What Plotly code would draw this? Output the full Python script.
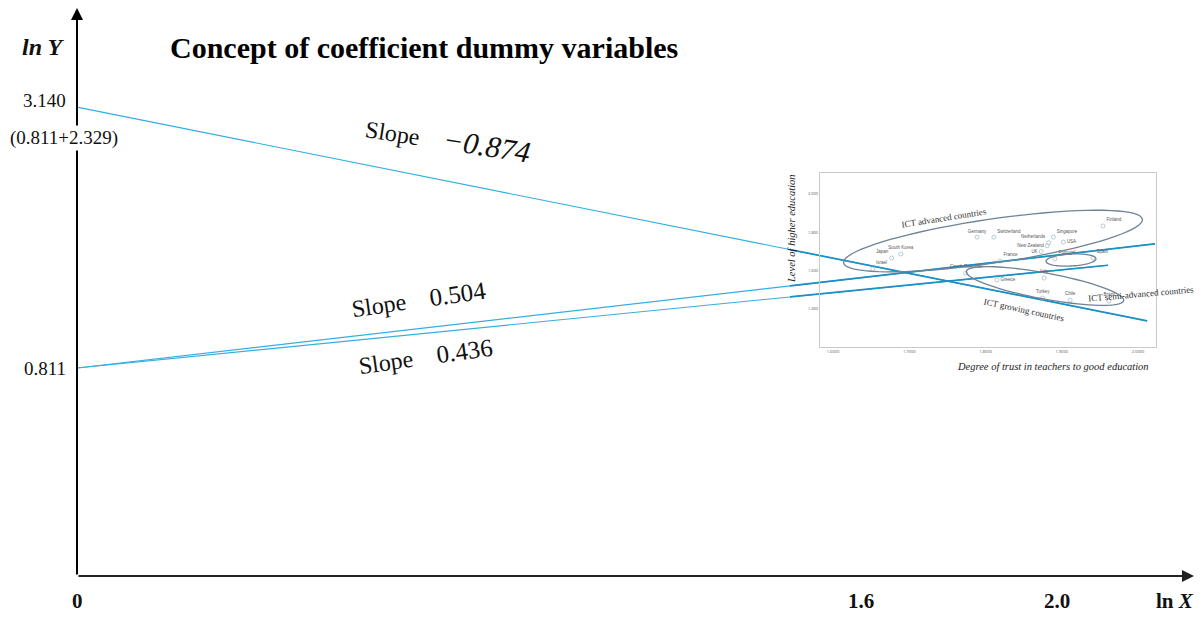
import numpy as np
import plotly.graph_objects as go

W, H = 1204, 618

# ---------------- data ----------------
intercepts = [3.140, 0.811, 0.811]
slopes = [-0.874, 0.504, 0.436]
line_x_end = [2.184, 2.200, 2.104]
slope_words = ["Slope", "Slope", "Slope"]
slope_values = ["<i>\u22120.874</i>", "0.504", "0.436"]

x_ticks = [0, 1.6, 2.0]
x_tick_text = ["0", "1.6", "2.0"]
y_ticks = [3.140, 0.811]
y_tick_text = ["3.140", "0.811"]

countries = ["Finland", "Germany", "Switzerland", "Singapore", "Netherlands", "USA",
             "New Zealand", "UK", "South Korea", "Japan", "Israel", "France",
             "Portugal", "Spain", "Czech Republic", "Greece", "Italy", "Turkey", "Chile", "Brazil"]
trust = [1.954, 1.789, 1.811, 1.889, 1.883, 1.902, 1.881, 1.873, 1.689, 1.677, 1.652, 1.819,
         1.891, 1.941, 1.774, 1.815, 1.877, 1.875, 1.911, 1.962]
higher_edu = [1.833, 1.775, 1.775, 1.775, 1.746, 1.749, 1.730, 1.700, 1.687, 1.666, 1.608, 1.650,
              1.661, 1.666, 1.587, 1.551, 1.561, 1.457, 1.446, 1.441]
label_pos = ["top right", "top center", "top right", "top right", "top left", "middle right",
             "middle left", "middle left", "top center", "top left", "top right", "top right",
             "top right", "top right", "top center", "middle right", "top center", "top center",
             "top center", "top center"]
inset_x_ticks = [1.6, 1.7, 1.8, 1.9, 2.0]
inset_x_text = ["1.6000", "1.7000", "1.8000", "1.9000", "2.0000"]
inset_y_ticks = [1.4, 1.6, 1.8, 2.0]
inset_y_text = ["1.400", "1.600", "1.800", "2.000"]

# ---------------- layout helpers ----------------
KX, KY = 490.0, 112.0           # px per unit
X0_PX, Y811_PX = 77.0, 368.0
x_range = [-X0_PX / KX, (W - X0_PX) / KX]
y_range = [0.811 - (H - Y811_PX) / KY, 0.811 + Y811_PX / KY]
x_axis_y = 0.811 - (576 - Y811_PX) / KY


def paper(px, py):
    return px / W, 1 - py / H


LINE_COL = "#33afe2"
INSET_LINE_COL = "#1b90c6"
SERIF = "Liberation Serif, Times New Roman, serif"

fig = go.Figure()

# main regression lines
for a, b, xe in zip(intercepts, slopes, line_x_end):
    xs = np.array([0.0, xe])
    fig.add_trace(go.Scatter(x=xs, y=a + b * xs, mode="lines",
                             line=dict(color=LINE_COL, width=1.1),
                             hoverinfo="skip", showlegend=False))

# inset points
fig.add_trace(go.Scatter(x=trust, y=higher_edu, mode="markers+text", text=countries,
                         textposition=label_pos,
                         textfont=dict(size=4.5, color="#555", family="Arial"),
                         marker=dict(size=4, color="rgba(0,0,0,0)",
                                     line=dict(color="#a7bccc", width=0.8)),
                         xaxis="x2", yaxis="y2", hoverinfo="skip", showlegend=False))

# thicker portions of the lines inside the inset region (drawn in main coordinates)
inset_start_x = (790 - X0_PX) / KX
for a, b, xe in zip(intercepts, slopes, line_x_end):
    xs = np.array([inset_start_x, xe])
    fig.add_trace(go.Scatter(x=xs, y=a + b * xs, mode="lines",
                             line=dict(color=INSET_LINE_COL, width=1.7),
                             hoverinfo="skip", showlegend=False))

fig.update_layout(
    width=W, height=H,
    margin=dict(l=0, r=0, t=0, b=0),
    paper_bgcolor="white", plot_bgcolor="rgba(0,0,0,0)",
    xaxis=dict(range=x_range, visible=False, domain=[0, 1]),
    yaxis=dict(range=y_range, visible=False, domain=[0, 1]),
    xaxis2=dict(range=[1.583, 2.0236], domain=[820 / W, 1156 / W], anchor="y2",
                tickvals=inset_x_ticks, ticktext=inset_x_text,
                tickfont=dict(size=4, color="#555"), ticks="", showgrid=False,
                showline=True, linecolor="#c9c9c9", linewidth=1.2, mirror=True,
                zeroline=False),
    yaxis2=dict(range=[1.201, 2.110], domain=[1 - 347 / H, 1 - 173 / H], anchor="x2",
                tickvals=inset_y_ticks, ticktext=inset_y_text,
                tickfont=dict(size=4, color="#555"), ticks="", showgrid=False,
                showline=True, linecolor="#c9c9c9", linewidth=1.2, mirror=True,
                zeroline=False),
    showlegend=False,
)

ann = []
# axes arrows
ann.append(dict(x=(1194 - X0_PX) / KX, y=x_axis_y, ax=0, ay=x_axis_y, xref="x", yref="y",
                axref="x", ayref="y", text="", showarrow=True, arrowhead=2, arrowsize=1.2,
                arrowwidth=2, arrowcolor="#222"))
ann.append(dict(x=0, y=0.811 + (Y811_PX - 8) / KY, ax=0, ay=x_axis_y, xref="x", yref="y",
                axref="x", ayref="y", text="", showarrow=True, arrowhead=2, arrowsize=1.2,
                arrowwidth=2, arrowcolor="#000"))


def txt(px, py, text, size, bold=False, angle=0, bg=None, color="#111", anchor="center"):
    x, y = paper(px, py)
    d = dict(x=x, y=y, xref="paper", yref="paper", text=text, showarrow=False,
             xanchor=anchor, yanchor="middle", textangle=angle,
             font=dict(family=SERIF, size=size, color=color))
    if bg:
        d["bgcolor"] = bg
    ann.append(d)


# y tick labels (positioned at their data values)
for v, t in zip(y_ticks, y_tick_text):
    ann.append(dict(x=-0.018, y=v + (7 / KY if v > 3 else 0), xref="x", yref="y", text=t,
                    showarrow=False, xanchor="right", yanchor="middle",
                    font=dict(family=SERIF, size=19, color="#111")))
txt(64, 138, "(0.811+2.329)", 19, bg="white")
# x tick labels
for v, t in zip(x_ticks, x_tick_text):
    ann.append(dict(x=v, y=0.811 - (601 - Y811_PX) / KY, xref="x", yref="y",
                    text="<b>" + t + "</b>", showarrow=False, xanchor="center", yanchor="middle",
                    font=dict(family=SERIF, size=21, color="#111")))
txt(1175, 601, "<b>ln <i>X</i></b>", 21)
txt(43, 47, "<b><i>ln Y</i></b>", 24)
# title
txt(168, 47, "<b>Concept of coefficient dummy variables</b>", 30, color="#000", anchor="left")
# slope labels
slope_pos = [(448, 139, 9), (418, 299, -8), (425, 356, -8)]
value_size = [30, 25, 25]
for (px, py, ang), w_, v_, vs in zip(slope_pos, slope_words, slope_values, value_size):
    txt(px, py, f"{w_}    <span style='font-size:{vs}px'>{v_}</span>", 24, angle=ang)

# inset titles & group labels
txt(1053, 366, "<i>Degree of trust in teachers to good education</i>", 10.5, color="#222")
txt(791, 228, "<i>Level of higher education</i>", 10.5, angle=-90, color="#222")
group_lbl = [("ICT advanced countries", 944, 218, -9), ("ICT semi-advanced countries", 1141, 294, -5),
             ("ICT growing countries", 1024, 310, 12)]
for t, px, py, ang in group_lbl:
    txt(px, py, t, 9, angle=ang, color="#333")
fig.update_layout(annotations=ann)

# ellipses around country groups (center px, semi-axes px, angle deg)
ellipses = [((993, 241), 151, 22, -8.3), ((1071, 260), 25, 6, -3), ((1045, 286), 80, 13, 10.5)]
shapes = []
t = np.linspace(0, 2 * np.pi, 80)
for (cx, cy), a_, b_, ang in ellipses:
    th = np.deg2rad(ang)
    px = cx + a_ * np.cos(t) * np.cos(th) - b_ * np.sin(t) * np.sin(th)
    py = cy + a_ * np.cos(t) * np.sin(th) + b_ * np.sin(t) * np.cos(th)
    pts = [paper(u, v) for u, v in zip(px, py)]
    path = "M " + " L ".join(f"{u:.5f},{v:.5f}" for u, v in pts) + " Z"
    shapes.append(dict(type="path", xref="paper", yref="paper", path=path,
                       line=dict(color="#6f8296", width=1.3)))
fig.update_layout(shapes=shapes)

fig.write_html("out.html", config={"displayModeBar": False},
               post_script="document.body.style.margin='0';")
